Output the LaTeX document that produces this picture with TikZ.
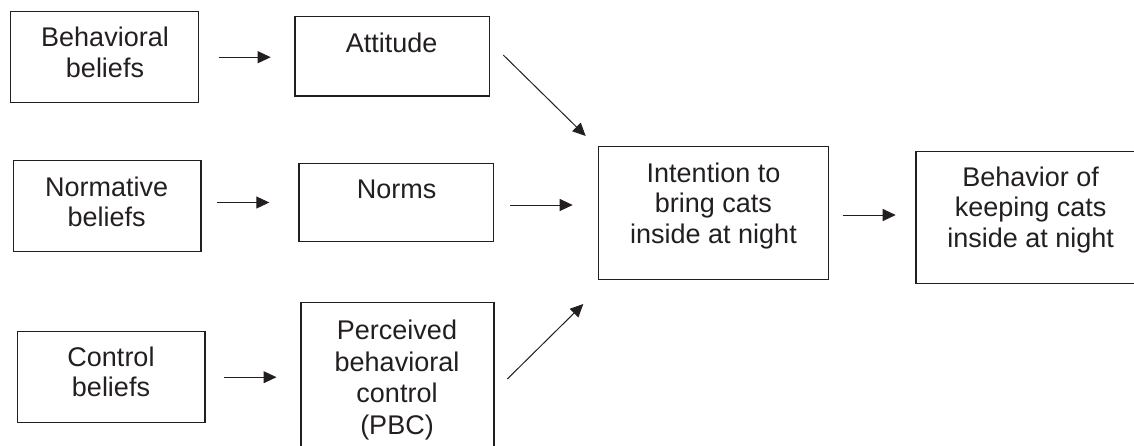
\documentclass[tikz,border=0pt]{standalone}
\usepackage{fontspec}
\setmainfont{Liberation Sans}
\usetikzlibrary{arrows.meta}
\definecolor{ink}{HTML}{231F20}
\begin{document}
\begin{tikzpicture}[x=1pt,y=-1pt,
  boxnode/.style={draw=ink, line width=1.4pt, inner sep=0pt, outer sep=0pt, rectangle},
  txt/.style={anchor=base, inner sep=0pt, outer sep=0pt, text=ink, font=\fontsize{27}{30.5}\selectfont},
  arr/.style={draw=ink, line width=1pt, -{Triangle[length=13pt,width=12pt]}}]
\useasboundingbox (0,0) rectangle (1134,445);
% boxes
\node[boxnode, minimum width=188.2pt, minimum height=91pt]   (bb)    at (104.4,57.2)  {};
\node[boxnode, minimum width=194.3pt, minimum height=79.3pt] (att)   at (392.15,56.35) {};
\node[boxnode, minimum width=187.7pt, minimum height=91pt]   (nb)    at (107.15,206.2) {};
\node[boxnode, minimum width=194.3pt, minimum height=78.4pt] (norms) at (396.15,202.5) {};
\node[boxnode, minimum width=187.7pt, minimum height=91pt]   (cb)    at (111.15,377.2) {};
\node[boxnode, minimum width=193pt,   minimum height=167.3pt] (pbc)  at (397.5,386.35) {};
\node[boxnode, minimum width=229.8pt, minimum height=132.8pt] (int)  at (713.4,212.9) {};
\node[boxnode, minimum width=229.8pt, minimum height=131.6pt] (beh)  at (1030.9,217.5) {};
% texts
\node[txt] (tbb)    at (105,46.5)   {\parbox[t]{220pt}{\centering Behavioral\\beliefs}};
\node[txt] (tatt)   at (391.7,52.3) {\parbox[t]{220pt}{\centering Attitude}};
\node[txt] (tnb)    at (106.7,196.2){\parbox[t]{220pt}{\centering Normative\\beliefs}};
\node[txt] (tnorms) at (396.7,198)  {\parbox[t]{220pt}{\centering Norms}};
\node[txt] (tcb)    at (111,366.2)  {\parbox[t]{220pt}{\centering Control\\beliefs}};
\node[txt] (tpbc)   at (397,339.5)  {\parbox[t]{220pt}{\baselineskip=31.5pt\centering Perceived\\behavioral\\control\\(PBC)}};
\node[txt] (tint)   at (713.5,182.2){\parbox[t]{220pt}{\centering Intention to\\bring cats\\inside at night}};
\node[txt] (tbeh)   at (1030.7,186.2){\parbox[t]{220pt}{\centering Behavior of\\keeping cats\\inside at night}};
% connectors
\draw[arr] ([xshift=20pt]bb.east) -- ([xshift=-24.3pt]bb.east -| att.west);
\draw[arr] ([xshift=15.7pt]nb.east |- norms.west) -- ([xshift=-29.7pt]norms.west);
\draw[arr] ([xshift=19pt]cb.east) -- ([xshift=-24.5pt]cb.east -| pbc.west);
\draw[arr] ([xshift=14pt,yshift=1.3pt]att.east) -- ([xshift=-12.8pt,yshift=10.5pt]int.north west);
\draw[arr] ([xshift=16.7pt,yshift=-2.5pt]norms.east) -- ([xshift=-25.8pt,yshift=7.9pt]int.west);
\draw[arr] ([xshift=13.3pt,yshift=7.35pt]pbc.east) -- ([xshift=-15.2pt,yshift=-24.7pt]int.south west);
\draw[arr] ([xshift=14.4pt,yshift=-2.1pt]int.east) -- ([xshift=-20.3pt,yshift=2.5pt]beh.west);
\end{tikzpicture}
\end{document}
